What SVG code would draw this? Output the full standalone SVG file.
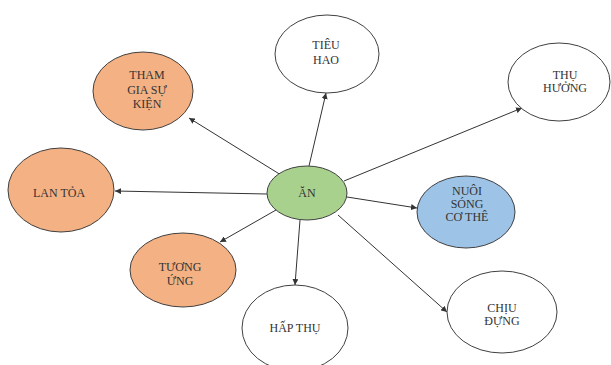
<svg xmlns="http://www.w3.org/2000/svg" width="611" height="365" viewBox="0 0 611 365">
<defs>
<style>
.n{stroke:#404040;stroke-width:1}
.w{fill:#ffffff}
.o{fill:#F4B183}
.g{fill:#A9D18E}
.b{fill:#9DC3E6}
text{font-family:"Liberation Serif","Times New Roman",serif;font-size:12px;fill:#333333;text-anchor:middle}
.c line{stroke:#333333;stroke-width:1;marker-end:url(#ah)}
</style>
<marker id="ah" viewBox="0 0 10 10" refX="10" refY="5" markerWidth="6" markerHeight="6" orient="auto" markerUnits="userSpaceOnUse">
<path d="M0,0 L10,5 L0,10 z" fill="#333333"/>
</marker>
</defs>
<rect width="611" height="365" fill="#ffffff"/>
<g class="c" id="connectors">
<line x1="309" y1="166" x2="326" y2="93"/>
<line x1="344" y1="181" x2="522" y2="108"/>
<line x1="347" y1="197" x2="417" y2="208"/>
<line x1="338" y1="215" x2="447" y2="312"/>
<line x1="300" y1="220" x2="295" y2="285"/>
<line x1="276" y1="210" x2="220" y2="242"/>
<line x1="267" y1="194" x2="115" y2="191"/>
<line x1="281" y1="175" x2="189" y2="118"/>
</g>
<g id="an"><ellipse class="n g" cx="307" cy="193" rx="40" ry="27"/><text x="307" y="197">ĂN</text></g>
<g id="tieuhao"><ellipse class="n w" cx="327" cy="54" rx="52" ry="39"/><text x="326" y="49">TIÊU</text><text x="326" y="64">HAO</text></g>
<g id="thuhuong"><ellipse class="n w" cx="559" cy="82" rx="51" ry="39"/><text x="565" y="79">THỤ</text><text x="565" y="92">HƯỞNG</text></g>
<g id="nuoisong"><ellipse class="n b" cx="466" cy="212" rx="49" ry="36"/><text x="467" y="195">NUÔI</text><text x="467" y="208">SÓNG</text><text x="467" y="221">CƠ THÊ</text></g>
<g id="chiudung"><ellipse class="n w" cx="502" cy="312" rx="55" ry="41"/><text x="502" y="312">CHỊU</text><text x="502" y="325">ĐỰNG</text></g>
<g id="hapthu"><ellipse class="n w" cx="295" cy="328" rx="53" ry="43"/><text x="295" y="332">HẤP THỤ</text></g>
<g id="tuongung"><ellipse class="n o" cx="183" cy="270" rx="53" ry="37"/><text x="180" y="271">TƯƠNG</text><text x="180" y="285">ỨNG</text></g>
<g id="lantoa"><ellipse class="n o" cx="61" cy="190" rx="53" ry="42"/><text x="59" y="197">LAN TỎA</text></g>
<g id="thamgia"><ellipse class="n o" cx="143" cy="91" rx="50" ry="39"/><text x="147" y="79">THAM</text><text x="147" y="94">GIA SỰ</text><text x="147" y="108">KIỆN</text></g>
</svg>
